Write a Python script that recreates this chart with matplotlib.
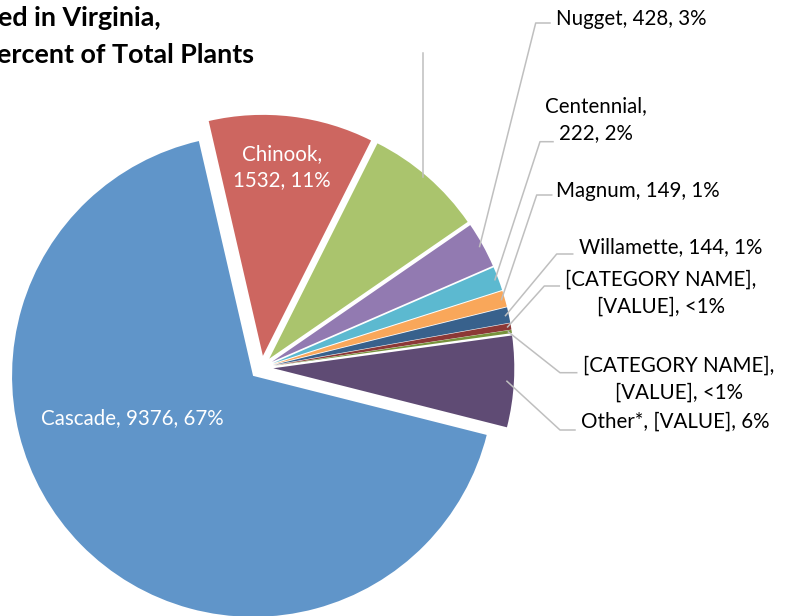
import matplotlib.pyplot as plt
import numpy as np

plt.rcParams['font.family'] = ['Lato', 'DejaVu Sans']

# hop varieties, clockwise from the top of the pie
varieties = ['Chinook', '', 'Nugget', 'Centennial', 'Magnum', 'Willamette',
             '[CATEGORY NAME]', '[CATEGORY NAME]', 'Other*', 'Cascade']
plants = [1532, 1110, 428, 222, 149, 144, 60, 30, 850, 9376]
colors = ['#CD6660', '#AAC46D', '#927AB1', '#5CB9D0', '#F9A75A', '#38618C',
          '#8C3836', '#77933C', '#5F4B74', '#6095C9']

W, H = 786, 616
CX, CY, R = 261.5, 367.6, 241.0


def P(x, y):
    # pixel position -> data position (pie radius = 1)
    return (x - CX) / R, (CY - y) / R


fig = plt.figure(figsize=(W / 100, H / 100), dpi=100)
ax = fig.add_axes([0, 0, 1, 1])
wedges, _ = ax.pie(plants, colors=colors, startangle=103, counterclock=False,
                   explode=[0.049] * len(plants), radius=1,
                   wedgeprops=dict(linewidth=0))
ax.set_xlim(-CX / R, (W - CX) / R)
ax.set_ylim((CY - H) / R, CY / R)
ax.set_aspect('auto')
ax.axis('off')

total = sum(plants)


def pct(i):
    return '%d%%' % round(100 * plants[i] / total)


def label(i, value=True):
    v = str(plants[i]) if value else '[VALUE]'
    return '%s, %s, %s' % (varieties[i], v, pct(i))


def mid(i, r=1.04):
    w = wedges[i]
    a = np.radians((w.theta1 + w.theta2) / 2)
    return r * np.cos(a), r * np.sin(a)


lc = '#BFBFBF'
fs = 14.8
ls = 1.4

# inside labels
ax.text(*P(282, 167), 'Chinook,\n%d, %s' % (plants[0], pct(0)),
        color='white', fontsize=fs, ha='center', va='center', linespacing=ls)
ax.text(*P(132, 418), label(9), color='white', fontsize=fs, ha='center', va='center')

# leader lines: (slice, elbow, end)
leaders = [
    (1, None, None),
    (2, (535.7, 23), (550, 23)),
    (3, (540, 141.7), (553, 141.7)),
    (4, (536.7, 195), (551.7, 195)),
    (5, (556.7, 254), (572.7, 254)),
    (6, (544.3, 286), (559.3, 286)),
    (7, (560, 372.7), (576.7, 372.7)),
    (8, (560, 430), (575, 430)),
]
for i, elbow, end in leaders:
    if elbow is None:
        x0, y0 = P(423.3, 177)
        x1, y1 = P(423.3, 53)
        ax.plot([x0, x1], [y0, y1], color=lc, lw=1.1)
        continue
    sx, sy = mid(i, 1.035 if i < 8 else 1.02)
    ex, ey = P(*elbow)
    fx, fy = P(*end)
    ax.plot([sx, ex, fx], [sy, ey, fy], color=lc, lw=1.1)

# outside labels
ax.text(*P(556, 19), label(2), fontsize=fs, ha='left', va='center')
ax.text(*P(596, 119.5), 'Centennial,\n%d, %s' % (plants[3], pct(3)),
        fontsize=fs, ha='center', va='center', linespacing=ls)
ax.text(*P(556, 191), label(4), fontsize=fs, ha='left', va='center')
ax.text(*P(579, 247), label(5), fontsize=fs, ha='left', va='center')
ax.text(*P(661, 293), '[CATEGORY NAME],\n[VALUE], <1%', fontsize=fs,
        ha='center', va='center', linespacing=ls)
ax.text(*P(679, 379), '[CATEGORY NAME],\n[VALUE], <1%', fontsize=fs,
        ha='center', va='center', linespacing=ls)
ax.text(*P(581, 422), label(8, value=False), fontsize=fs, ha='left', va='center')

# title (left part runs off the canvas)
ax.text(*P(-2, 18), 'ed in Virginia,', fontsize=19.4, fontweight='bold',
        ha='left', va='center')
ax.text(*P(-3, 55), 'ercent of Total Plants', fontsize=19.4, fontweight='bold',
        ha='left', va='center')

fig.savefig('out.png', dpi=100)
